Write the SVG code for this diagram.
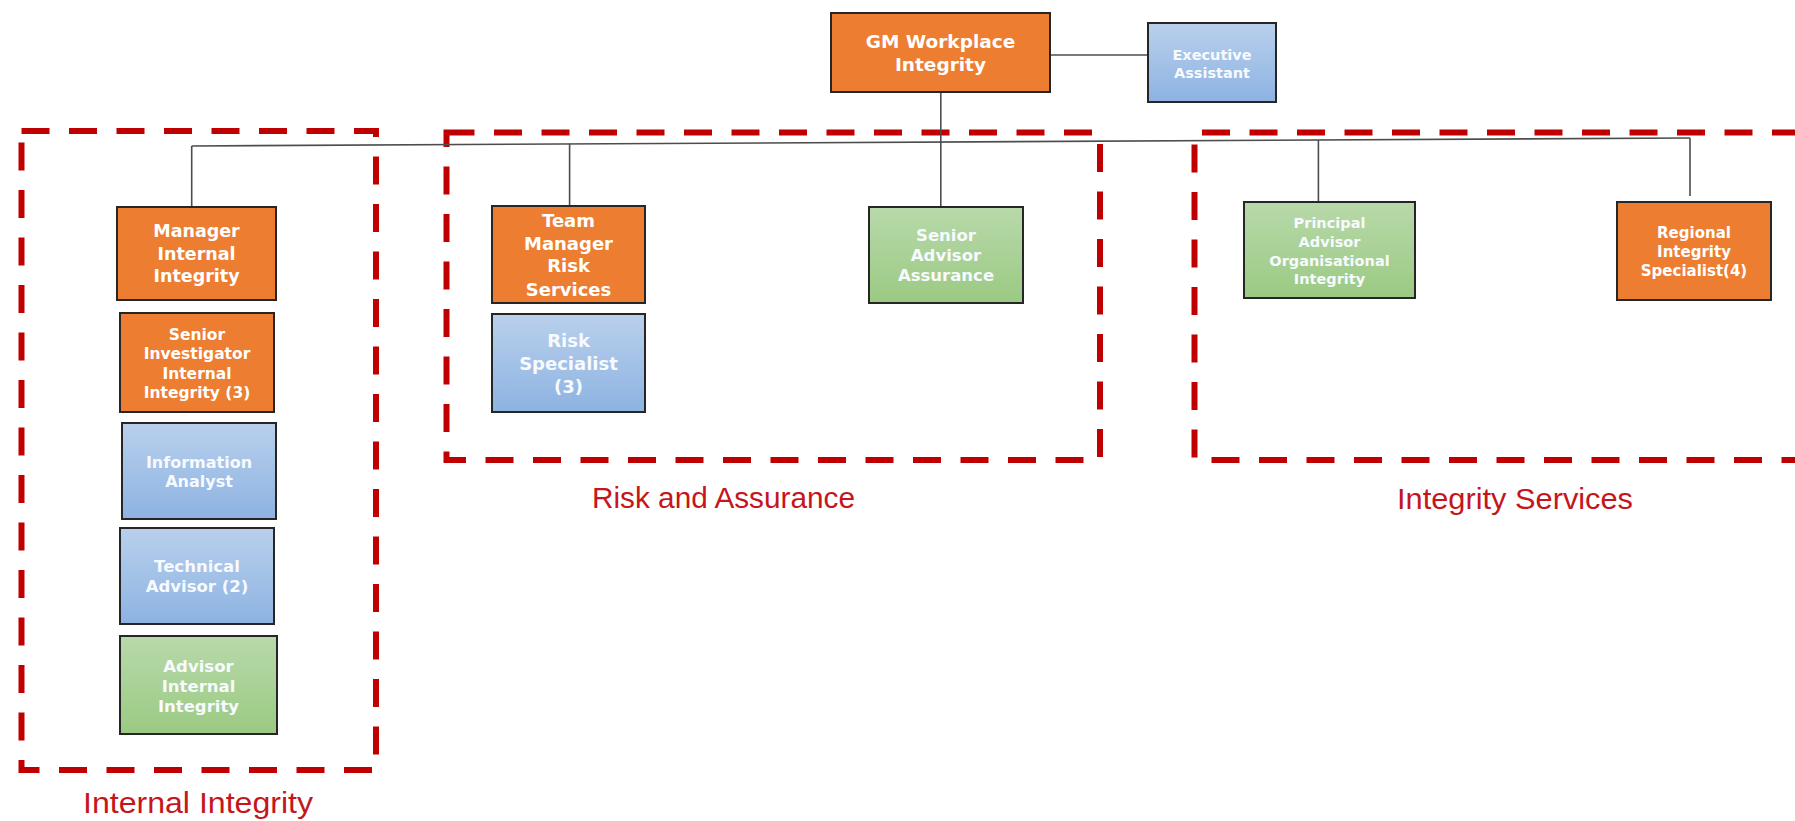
<svg xmlns="http://www.w3.org/2000/svg" width="1795" height="821" viewBox="0 0 1795 821">
<defs>
<linearGradient id="gBlue" x1="0" y1="0" x2="0" y2="1"><stop offset="0" stop-color="#B9D0EC"/><stop offset="1" stop-color="#8DB3E2"/></linearGradient>
<linearGradient id="gGreen" x1="0" y1="0" x2="0" y2="1"><stop offset="0" stop-color="#B8D9AA"/><stop offset="1" stop-color="#9BCA83"/></linearGradient>
<style>
.box{stroke:#262626;stroke-width:2}
.or{fill:#ED7D31}
.bl{fill:url(#gBlue)}
.gr{fill:url(#gGreen)}
.t{font-family:"DejaVu Sans","Liberation Sans",sans-serif;font-weight:bold;text-anchor:middle;fill:#FFFFFF}
.tl{fill:#F7FAFE}
.conn{stroke:#4d4d4d;stroke-width:1.6;fill:none}
.grp{stroke:#C00000;stroke-width:6;fill:none;stroke-dasharray:28 19.5}
.lbl{font-family:"Liberation Sans","Open Sans",sans-serif;font-size:29px;fill:#C4161C;text-anchor:middle}
</style>
</defs>
<rect width="1795" height="821" fill="#FFFFFF"/>

<g id="groups">
<rect class="grp" x="21.5" y="131" width="354.5" height="639"/>
<rect class="grp" x="446.5" y="132.5" width="653.5" height="327.5"/>
<path class="grp" d="M1800,132.5 H1194.5 V460 H1800"/>
</g>

<g id="connectors">
<line class="conn" x1="1050" y1="55" x2="1148" y2="55"/>
<line class="conn" x1="191.7" y1="146" x2="1690" y2="138"/>
<line class="conn" x1="940.8" y1="92" x2="940.8" y2="207"/>
<line class="conn" x1="191.7" y1="146" x2="191.7" y2="207"/>
<line class="conn" x1="569.6" y1="144" x2="569.6" y2="206"/>
<line class="conn" x1="1318.4" y1="140" x2="1318.4" y2="202"/>
<line class="conn" x1="1690" y1="138" x2="1690" y2="196"/>
</g>

<g id="gm">
<rect class="box or" x="831" y="13" width="219" height="79"/>
<text class="t" font-size="18.5" x="940.5"><tspan x="940.5" y="48">GM Workplace</tspan><tspan x="940.5" y="71">Integrity</tspan></text>
</g>
<g id="exec-assistant">
<rect class="box bl" x="1148" y="23" width="128" height="79"/>
<text class="t tl" font-size="14.5" x="1212"><tspan x="1212" y="60">Executive</tspan><tspan x="1212" y="78">Assistant</tspan></text>
</g>

<g id="manager-internal-integrity">
<rect class="box or" x="117" y="207" width="159" height="93"/>
<text class="t" font-size="17.5" x="196.5"><tspan x="196.5" y="237">Manager</tspan><tspan x="196.5" y="260">Internal</tspan><tspan x="196.5" y="282">Integrity</tspan></text>
</g>
<g id="senior-investigator">
<rect class="box or" x="120" y="313" width="154" height="99"/>
<text class="t" font-size="15.5" x="197"><tspan x="197" y="340">Senior</tspan><tspan x="197" y="359">Investigator</tspan><tspan x="197" y="379">Internal</tspan><tspan x="197" y="397.5">Integrity (3)</tspan></text>
</g>
<g id="information-analyst">
<rect class="box bl" x="122" y="423" width="154" height="96"/>
<text class="t tl" font-size="16" x="199"><tspan x="199" y="468">Information</tspan><tspan x="199" y="487">Analyst</tspan></text>
</g>
<g id="technical-advisor">
<rect class="box bl" x="120" y="528" width="154" height="96"/>
<text class="t tl" font-size="16.5" x="197"><tspan x="197" y="572">Technical</tspan><tspan x="197" y="592">Advisor (2)</tspan></text>
</g>
<g id="advisor-internal-integrity">
<rect class="box gr" x="120" y="636" width="157" height="98"/>
<text class="t tl" font-size="16.5" x="198.5"><tspan x="198.5" y="672">Advisor</tspan><tspan x="198.5" y="692">Internal</tspan><tspan x="198.5" y="712">Integrity</tspan></text>
</g>

<g id="team-manager-risk">
<rect class="box or" x="492" y="206" width="153" height="97"/>
<text class="t" font-size="18" x="568.5"><tspan x="568.5" y="227">Team</tspan><tspan x="568.5" y="250">Manager</tspan><tspan x="568.5" y="272">Risk</tspan><tspan x="568.5" y="296">Services</tspan></text>
</g>
<g id="risk-specialist">
<rect class="box bl" x="492" y="314" width="153" height="98"/>
<text class="t tl" font-size="18" x="568.5"><tspan x="568.5" y="347">Risk</tspan><tspan x="568.5" y="370">Specialist</tspan><tspan x="568.5" y="393">(3)</tspan></text>
</g>
<g id="senior-advisor-assurance">
<rect class="box gr" x="869" y="207" width="154" height="96"/>
<text class="t tl" font-size="16.5" x="946"><tspan x="946" y="241">Senior</tspan><tspan x="946" y="261">Advisor</tspan><tspan x="946" y="281">Assurance</tspan></text>
</g>

<g id="principal-advisor">
<rect class="box gr" x="1244" y="202" width="171" height="96"/>
<text class="t tl" font-size="14.5" x="1329.5"><tspan x="1329.5" y="228">Principal</tspan><tspan x="1329.5" y="247">Advisor</tspan><tspan x="1329.5" y="266">Organisational</tspan><tspan x="1329.5" y="284">Integrity</tspan></text>
</g>
<g id="regional-integrity-specialist">
<rect class="box or" x="1617" y="202" width="154" height="98"/>
<text class="t" font-size="15" x="1694"><tspan x="1694" y="238">Regional</tspan><tspan x="1694" y="257">Integrity</tspan><tspan x="1694" y="276">Specialist(4)</tspan></text>
</g>

<g id="labels">
<text class="lbl" x="198" y="813" textLength="230" lengthAdjust="spacingAndGlyphs">Internal Integrity</text>
<text class="lbl" x="723.5" y="508" textLength="263" lengthAdjust="spacingAndGlyphs">Risk and Assurance</text>
<text class="lbl" x="1515" y="509" textLength="236" lengthAdjust="spacingAndGlyphs">Integrity Services</text>
</g>
</svg>
